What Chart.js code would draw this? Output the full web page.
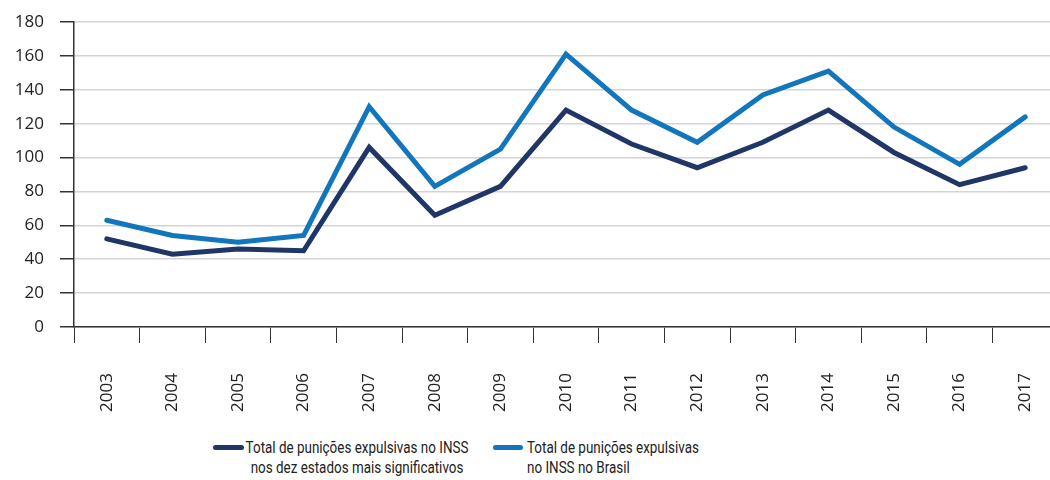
<!DOCTYPE html>
<html lang="pt-BR">
<head>
<meta charset="utf-8">
<title>Punições expulsivas no INSS</title>
<script src="https://cdn.jsdelivr.net/npm/chart.js@4/dist/chart.umd.min.js"></script>
<style>
  html, body { margin: 0; padding: 0; background: #fff; overflow: hidden; }
  body { width: 1050px; height: 480px; position: relative; }
  #chartWrap { position: absolute; left: 0; top: 0; width: 1058px; height: 420px; }
  .legend-swatch { position: absolute; height: 5px; border-radius: 3px; }
  .legend-text {
    position: absolute;
    font-family: Roboto, "Noto Sans", sans-serif;
    font-size: 17px; line-height: 20px; color: #222;
    white-space: nowrap;
  }
  .legend-text span { display: inline-block; transform: scaleX(0.79); }
</style>
</head>
<body>
<div id="chartWrap"><canvas id="punicoesChart"></canvas></div>

<span class="legend-swatch" style="left:213px; top:445px; width:31px; background:#1f3667;"></span>
<div class="legend-text" style="left:207px; top:437px; width:300px; text-align:center;"><span style="transform-origin:center top;">Total de punições expulsivas no INSS<br>nos dez estados mais significativos</span></div>

<span class="legend-swatch" style="left:493px; top:445px; width:30px; background:#1176bb;"></span>
<div class="legend-text" style="left:527px; top:437px; text-align:left;"><span style="transform-origin:left top;">Total de punições expulsivas<br>no INSS no Brasil</span></div>

<script>
  // Dados
  const anos = ['2003', '2004', '2005', '2006', '2007', '2008', '2009', '2010',
                '2011', '2012', '2013', '2014', '2015', '2016', '2017'];
  const dezEstados = [52, 43, 46, 45, 106, 66, 83, 128, 108, 94, 109, 128, 103, 84, 94];
  const brasil = [63, 54, 50, 54, 130, 83, 105, 161, 128, 109, 137, 151, 118, 96, 124];
  const yTicks = [0, 20, 40, 60, 80, 100, 120, 140, 160, 180];

  const COLORS = {
    dark: '#1f3667',
    light: '#1176bb',
    axis: '#333333',
    grid: '#d4d4d4',
    text: '#222222'
  };

  const ctx = document.getElementById('punicoesChart');

  new Chart(ctx, {
    type: 'line',
    data: {
      labels: anos,
      datasets: [
        {
          label: 'Total de punições expulsivas no INSS nos dez estados mais significativos',
          data: dezEstados,
          borderColor: COLORS.dark,
          borderWidth: 5,
          tension: 0,
          pointRadius: 0,
          borderCapStyle: 'round',
          borderJoinStyle: 'miter',
          fill: false
        },
        {
          label: 'Total de punições expulsivas no INSS no Brasil',
          data: brasil,
          borderColor: COLORS.light,
          borderWidth: 5,
          tension: 0,
          pointRadius: 0,
          borderCapStyle: 'round',
          borderJoinStyle: 'miter',
          fill: false
        }
      ]
    },
    options: {
      responsive: true,
      maintainAspectRatio: false,
      animation: false,
      layout: { padding: { top: 22, right: 0, left: 0, bottom: 0 } },
      plugins: {
        legend: { display: false },
        tooltip: { enabled: false }
      },
      scales: {
        x: {
          offset: true,
          grid: {
            offset: true,
            drawOnChartArea: false,
            tickLength: 16,
            tickColor: COLORS.axis,
            tickWidth: 1
          },
          border: { color: COLORS.axis, width: 1.5 },
          ticks: {
            minRotation: 90,
            maxRotation: 90,
            padding: 30,
            color: COLORS.text,
            font: { family: '"Open Sans", "Noto Sans", sans-serif', size: 17 }
          },
          afterFit: (scale) => {
            scale.height = 93;
            scale.paddingLeft = 0;
            scale.paddingRight = 0;
          }
        },
        y: {
          min: 0,
          max: 180,
          afterBuildTicks: (scale) => { scale.ticks = yTicks.map(v => ({ value: v })); },
          grid: {
            color: COLORS.grid,
            lineWidth: 1.5,
            tickLength: 14,
            tickColor: COLORS.axis,
            tickWidth: 1.5
          },
          border: { color: COLORS.axis, width: 1.5 },
          ticks: {
            padding: 16,
            color: COLORS.text,
            font: { family: '"Open Sans", "Noto Sans", sans-serif', size: 17 }
          },
          afterFit: (scale) => {
            scale.width = 74;
            scale.paddingTop = 0;
            scale.paddingBottom = 0;
          }
        }
      }
    }
  });
</script>
</body>
</html>
